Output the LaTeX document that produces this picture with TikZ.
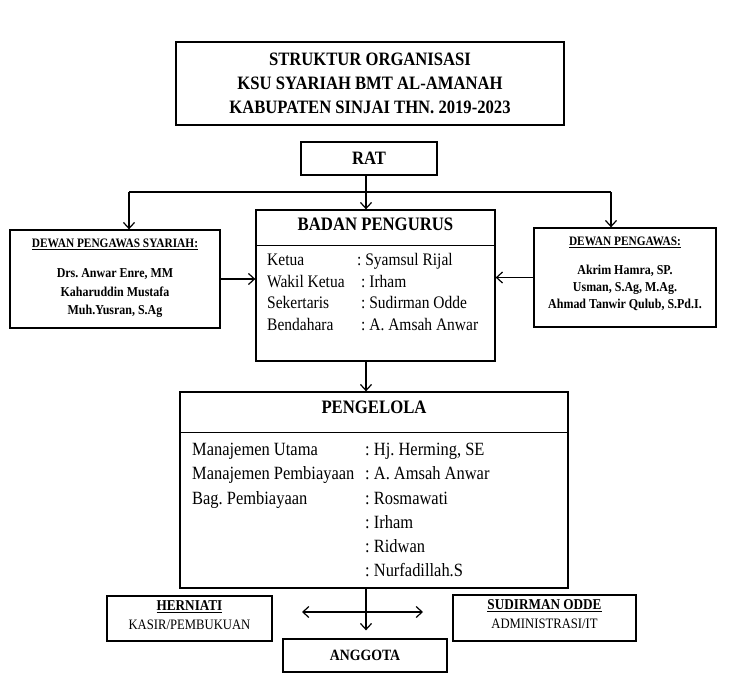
\documentclass[tikz,border=0pt]{standalone}
\usepackage{fontspec}
\setmainfont{Liberation Serif}[FakeStretch=0.88]
\frenchspacing
\usetikzlibrary{arrows.meta}
\begin{document}
\begin{tikzpicture}[x=1pt,y=-1pt,
  box/.style={draw, line width=1.3pt, inner sep=0pt, anchor=center},
  conn/.style={line width=1.2pt},
  tip/.style={-{Straight Barb[length=6pt,width=11pt,line width=1.2pt]}},
  dtip/.style={{Straight Barb[length=6pt,width=11pt,line width=1.2pt]}-{Straight Barb[length=6pt,width=11pt,line width=1.2pt]}},
  hd/.style={font=\bfseries\fontsize{19}{22}\selectfont, anchor=mid},
  brow/.style={font=\fontsize{17.6}{20}\selectfont, anchor=mid west, inner sep=0pt},
  prow/.style={font=\fontsize{18.7}{21}\selectfont, anchor=mid west, inner sep=0pt},
  shd/.style={font=\bfseries\fontsize{12.9}{15}\selectfont, anchor=mid, inner sep=0pt},
  nm/.style={font=\bfseries\fontsize{13.6}{16}\selectfont, anchor=mid, inner sep=0pt},
  bhd/.style={font=\bfseries\fontsize{15}{17}\selectfont, anchor=mid, inner sep=0pt},
  bsub/.style={font=\fontsize{14.4}{17}\selectfont, anchor=mid, inner sep=0pt}]
\useasboundingbox (0,0) rectangle (751,693);
\fill[white] (0,0) rectangle (751,693);

% title
\node[box, minimum width=388pt, minimum height=83pt, align=center,
      font=\bfseries\fontsize{18.9}{24}\selectfont] (title) at (370,83.5)
  {STRUKTUR ORGANISASI\\KSU SYARIAH BMT AL-AMANAH\\KABUPATEN SINJAI THN. 2019-2023};

% RAT
\node[box, minimum width=136pt, minimum height=33pt, font=\bfseries\fontsize{18.9}{22}\selectfont] (rat) at (369,158.5) {RAT};

% Badan Pengurus
\node[box, minimum width=239pt, minimum height=151pt] (bp) at (375.5,285.5) {};
\draw[line width=1.3pt] (bp.north west) ++(0,36) -- ++(239,0);
\node[hd] (bpt) at (375.5,228) {BADAN PENGURUS};
\node[brow] (b1) at (267,263) {Ketua};
\node[brow] (b1v) at (357,263) {: Syamsul Rijal};
\node[brow] (b2) at (267,285) {Wakil Ketua};
\node[brow] (b2v) at (361,285) {: Irham};
\node[brow] (b3) at (267,306.5) {Sekertaris};
\node[brow] (b3v) at (361,306.5) {: Sudirman Odde};
\node[brow] (b4) at (267,328) {Bendahara};
\node[brow] (b4v) at (361,328) {: A. Amsah Anwar};

% Dewan Pengawas Syariah
\node[box, minimum width=210pt, minimum height=98pt] (ldp) at (115,279) {};
\node[shd] (ldph) at (115,245) {\underline{DEWAN PENGAWAS SYARIAH:}};
\node[nm] (ldp1) at (115,275) {Drs. Anwar Enre, MM};
\node[nm] (ldp2) at (115,294) {Kaharuddin Mustafa};
\node[nm] (ldp3) at (115,312.5) {Muh.Yusran, S.Ag};

% Dewan Pengawas
\node[box, minimum width=182pt, minimum height=99pt] (rdp) at (625,277.5) {};
\node[shd] (rdph) at (625,243) {\underline{DEWAN PENGAWAS:}};
\node[nm] (rdp1) at (625,272) {Akrim Hamra, SP.};
\node[nm] (rdp2) at (625,289) {Usman, S.Ag, M.Ag.};
\node[nm] (rdp3) at (625,306) {Ahmad Tanwir Qulub, S.Pd.I.};

% Pengelola
\node[box, minimum width=388pt, minimum height=196pt] (pg) at (374,490) {};
\draw[line width=1.3pt] (pg.north west) ++(0,41) -- ++(388,0);
\node[hd] (pgt) at (374,411) {PENGELOLA};
\node[prow] (p1) at (192,453) {Manajemen Utama};
\node[prow] (p1v) at (365,453) {: Hj. Herming, SE};
\node[prow] (p2) at (192,477) {Manajemen Pembiayaan};
\node[prow] (p2v) at (365,477) {: A. Amsah Anwar};
\node[prow] (p3) at (192,502) {Bag. Pembiayaan};
\node[prow] (p3v) at (365,502) {: Rosmawati};
\node[prow] (p4v) at (365,526) {: Irham};
\node[prow] (p5v) at (365,550) {: Ridwan};
\node[prow] (p6v) at (365,574) {: Nurfadillah.S};

% bottom boxes
\node[box, minimum width=165pt, minimum height=45pt] (hb) at (189.5,618.5) {};
\node[bhd] (hbt) at (189.5,608) {\underline{HERNIATI}};
\node[bsub] (hbs) at (189.5,627.5) {KASIR/PEMBUKUAN};
\node[box, minimum width=183pt, minimum height=46pt] (sb) at (544.5,618) {};
\node[bhd] (sbt) at (544.5,607) {\underline{SUDIRMAN ODDE}};
\node[bsub] (sbs) at (544.5,626.5) {ADMINISTRASI/IT};
\node[box, minimum width=164pt, minimum height=33pt, font=\bfseries\fontsize{15.7}{18}\selectfont] (ag) at (365,655.5) {ANGGOTA};

% connectors
\coordinate (spine) at (366,0);
\coordinate (jl) at (129,192);
\coordinate (jr) at (611,192);
\coordinate (jc) at (366,192);
\draw[conn] (rat.south -| spine) -- (jc);
\draw[conn] (jl) -- (jr);
\draw[conn,tip] (jc) -- (bp.north -| spine);
\draw[conn,tip] (jl) -- (ldp.north -| jl);
\draw[conn,tip] (jr) -- (rdp.north -| jr);
\draw[conn,tip] (ldp.east) -- (bp.west |- ldp.east);
\draw[conn,tip] (rdp.west) -- (bp.east |- rdp.west);
\draw[conn,tip] (bp.south -| spine) -- (pg.north -| spine);
\draw[conn,tip,shorten >=8pt] (pg.south -| spine) -- (ag.north -| spine);
\coordinate (da1) at (302,612);
\coordinate (da2) at (423,612);
\draw[conn,dtip] (da1) -- (da2);
\end{tikzpicture}
\end{document}
